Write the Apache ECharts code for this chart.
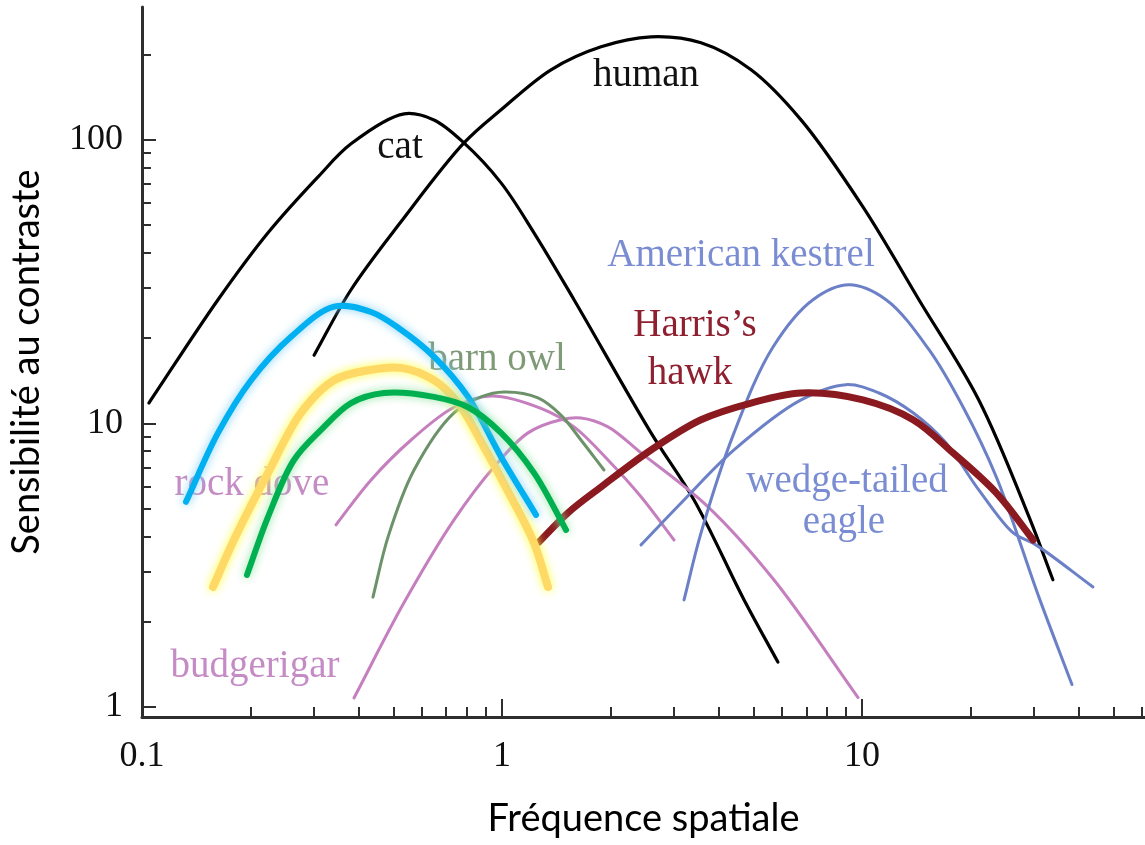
<!DOCTYPE html>
<html><head><meta charset="utf-8">
<script src="https://cdn.jsdelivr.net/npm/echarts@6/dist/echarts.min.js"></script>
<style>html,body{margin:0;padding:0;background:#fff}#c{width:1145px;height:845px}</style>
</head><body><div id="c"></div>
<script>
// ---- data (spatial frequency, contrast sensitivity) ----
const catX = [0.1045, 0.1626, 0.2239, 0.3083, 0.3807, 0.535, 0.647, 0.784, 0.994, 1.227, 1.585, 2.594, 3.415, 4.70, 5.84];
const catY = [11.8, 27.3, 47.0, 74.0, 96.8, 123.5, 117.5, 97.5, 70.5, 47.0, 27.3, 9.26, 5.37, 2.39, 1.44];
const humanX = [0.3006, 0.3807, 0.524, 0.784, 0.994, 1.368, 1.884, 2.594, 3.571, 4.918, 6.77, 10.06, 14.39, 21.1, 29.1, 33.9];
const humanY = [17.4, 29.6, 51.4, 97.5, 127.6, 176.6, 212.8, 230.7, 219.8, 176.6, 117.6, 58.0, 27.3, 12.1, 4.68, 2.81];
const rockDoveX = [0.3458, 0.4327, 0.559, 0.7356, 0.932, 1.283, 1.585, 1.97, 2.433, 3.005];
const rockDoveY = [4.39, 6.32, 8.74, 11.4, 12.5, 11.3, 9.72, 7.43, 5.51, 3.88];
const budgieX = [0.388, 0.534, 0.7356, 0.950, 1.181, 1.458, 1.657, 1.97, 2.433, 3.735, 5.69, 9.75];
const budgieY = [1.076, 2.33, 4.57, 7.02, 9.26, 10.3, 10.45, 9.72, 7.87, 5.08, 2.81, 1.08];
const owlX = [0.438, 0.4825, 0.5697, 0.7356, 0.874, 1.013, 1.259, 1.458, 1.657, 1.920];
const owlY = [2.44, 3.98, 6.85, 10.9, 12.4, 12.9, 12.3, 10.7, 8.74, 6.85];
const kestrelX = [3.203, 3.571, 4.41, 5.66, 7.31, 9.20, 11.66, 15.35, 19.1, 23.6, 31.0, 38.3];
const kestrelY = [2.385, 4.11, 9.26, 18.6, 27.3, 30.8, 27.3, 18.2, 11.4, 6.48, 2.44, 1.20];
const eagleX = [2.433, 3.203, 4.41, 6.77, 9.03, 11.15, 13.86, 17.1, 21.1, 26.3, 30.4, 43.8];
const eagleY = [3.73, 5.37, 8.06, 12.1, 13.7, 12.8, 10.9, 8.54, 5.83, 4.11, 3.73, 2.65];
const hawkX = [1.267, 1.525, 1.884, 2.594, 3.571, 4.918, 6.77, 10.06, 13.86, 17.9, 23.6, 29.9];
const hawkY = [3.82, 4.84, 5.97, 8.06, 10.3, 11.8, 12.8, 12.1, 10.3, 7.87, 5.69, 3.88];
const cyanX = [0.1325, 0.1626, 0.2009, 0.2594, 0.3414, 0.4327, 0.524, 0.647, 0.805, 0.994, 1.243];
const cyanY = [5.29, 9.26, 14.2, 20.2, 25.8, 24.7, 21.4, 17.2, 12.4, 7.62, 4.76];
const yellowX = [0.1575, 0.180, 0.2239, 0.2764, 0.3414, 0.4244, 0.524, 0.647, 0.755, 0.891, 1.059, 1.227, 1.342];
const yellowY = [2.65, 3.88, 6.69, 10.9, 14.2, 15.4, 15.7, 14.2, 11.8, 8.26, 5.51, 3.79, 2.65];
const greenX = [0.1957, 0.2239, 0.2643, 0.3143, 0.3807, 0.470, 0.647, 0.805, 0.994, 1.227, 1.506];
const greenY = [2.92, 4.68, 7.43, 9.49, 11.8, 12.8, 12.4, 11.4, 9.26, 6.69, 4.21];

// ---- axes ----
const xRange = [0.1, 61.1];
const yRange = [0.922, 294];
const xMajorVals = [0.1, 1, 10];
const xMajorLabels = ['0.1', '1', '10'];
const xMinorVals = [0.2,0.3,0.4,0.5,0.6,0.7,0.8,0.9,2,3,4,5,6,7,8,9,20,30,40,50,60];
const yMajorVals = [1, 10, 100];
const yMajorLabels = ['1', '10', '100'];
const yMinorVals = [2,3,4,5,6,7,8,9,20,30,40,50,60,70,80,90,200];
const xTitle = 'Fréquence spatiale';
const yTitle = 'Sensibilité au contraste';

const L = Math.log10;
const pts = (xs, ys) => xs.map((x, i) => [L(x), L(ys[i])]);
const fmt = (vals, labels) => v => { const i = vals.findIndex(a => Math.abs(L(a) - v) < 1e-6); return i >= 0 ? labels[i] : ''; };

// centripetal Catmull-Rom through pixel points -> cubic Bezier path
function crPath(p) {
  const n = p.length;
  const get = i => {
    if (i < 0) return [2 * p[0][0] - p[1][0], 2 * p[0][1] - p[1][1]];
    if (i >= n) return [2 * p[n - 1][0] - p[n - 2][0], 2 * p[n - 1][1] - p[n - 2][1]];
    return p[i];
  };
  let d = 'M' + p[0][0] + ',' + p[0][1];
  for (let i = 0; i < n - 1; i++) {
    const P0 = get(i - 1), P1 = p[i], P2 = p[i + 1], P3 = get(i + 2);
    const d1 = Math.sqrt(Math.hypot(P1[0] - P0[0], P1[1] - P0[1])) || 1e-6;
    const d2 = Math.sqrt(Math.hypot(P2[0] - P1[0], P2[1] - P1[1])) || 1e-6;
    const d3 = Math.sqrt(Math.hypot(P3[0] - P2[0], P3[1] - P2[1])) || 1e-6;
    const a1 = d1 * d1, a2 = d2 * d2, a3 = d3 * d3;
    const b1 = [0, 1].map(k => (a1 * P2[k] - a2 * P0[k] + (2 * a1 + 3 * d1 * d2 + a2) * P1[k]) / (3 * d1 * (d1 + d2)));
    const b2 = [0, 1].map(k => (a3 * P1[k] - a2 * P3[k] + (2 * a3 + 3 * d3 * d2 + a2) * P2[k]) / (3 * d3 * (d3 + d2)));
    d += ' C' + b1[0] + ',' + b1[1] + ' ' + b2[0] + ',' + b2[1] + ' ' + P2[0] + ',' + P2[1];
  }
  return d;
}

const axisCol = '#2e2e2e';
const serif = '"Liberation Serif", "DejaVu Serif", serif';
const sans = 'Lato, "Open Sans", sans-serif';

function curve(name, xs, ys, color, width, z, glow) {
  const data = pts(xs, ys);
  return {
    name, type: 'custom', coordinateSystem: 'cartesian2d', data, z, silent: true,
    encode: { x: 0, y: 1 },
    renderItem: (params, api) => {
      if (params.dataIndex !== 0) return null;
      const pix = data.map(d => api.coord(d));
      const style = { fill: 'none', stroke: color, lineWidth: width, lineCap: 'round', lineJoin: 'round' };
      if (glow) { style.shadowColor = glow; style.shadowBlur = 10; }
      return { type: 'path', shape: { pathData: crPath(pix) }, style };
    }
  };
}

const chart = echarts.init(document.getElementById('c'));
chart.setOption({
  animation: false,
  backgroundColor: '#fff',
  grid: { left: 142, right: 0, top: 7, bottom: 128, containLabel: false, outerBoundsMode: 'none' },
  xAxis: [
    { type: 'value', position: 'bottom', min: L(xRange[0]), max: L(xRange[1]),
      axisLine: { show: true, onZero: false, lineStyle: { color: axisCol, width: 3 } },
      axisTick: { show: true, inside: true, length: 18, customValues: [0, 1], lineStyle: { color: axisCol, width: 2 } },
      axisLabel: { show: true, customValues: xMajorVals.map(L), formatter: fmt(xMajorVals, xMajorLabels), margin: 22,
        fontFamily: serif, fontSize: 36, color: '#111', showMinLabel: true, showMaxLabel: true },
      splitLine: { show: false },
      name: xTitle, nameLocation: 'middle', nameGap: 83,
      nameTextStyle: { fontFamily: sans, fontSize: 38, color: '#000' } },
    { type: 'value', position: 'bottom', min: L(xRange[0]), max: L(xRange[1]),
      axisLine: { show: false, onZero: false },
      axisTick: { show: true, inside: true, length: 10, customValues: xMinorVals.map(L), lineStyle: { color: axisCol, width: 2 } },
      axisLabel: { show: false }, splitLine: { show: false } }
  ],
  yAxis: [
    { type: 'value', position: 'left', min: L(yRange[0]), max: L(yRange[1]),
      axisLine: { show: true, onZero: false, lineStyle: { color: axisCol, width: 3 } },
      axisTick: { show: true, inside: true, length: 14, customValues: [0, 1, 2], lineStyle: { color: axisCol, width: 2 } },
      axisLabel: { show: true, customValues: yMajorVals.map(L), formatter: fmt(yMajorVals, yMajorLabels), margin: 19,
        fontFamily: serif, fontSize: 36, color: '#111', showMinLabel: true, showMaxLabel: true },
      splitLine: { show: false },
      name: yTitle, nameLocation: 'middle', nameGap: 96, nameRotate: 90,
      nameTextStyle: { fontFamily: sans, fontSize: 38, color: '#000' } },
    { type: 'value', position: 'left', min: L(yRange[0]), max: L(yRange[1]),
      axisLine: { show: false, onZero: false },
      axisTick: { show: true, inside: true, length: 9, customValues: yMinorVals.map(L), lineStyle: { color: axisCol, width: 2 } },
      axisLabel: { show: false }, splitLine: { show: false } }
  ],
  series: [
    curve('cat', catX, catY, '#000000', 3.2, 2),
    curve('human', humanX, humanY, '#000000', 3.2, 2),
    curve('rock dove', rockDoveX, rockDoveY, '#c57fbf', 3, 3),
    curve('budgerigar', budgieX, budgieY, '#c57fbf', 3, 3),
    curve('barn owl', owlX, owlY, '#6c926a', 3, 3),
    curve('American kestrel', kestrelX, kestrelY, '#6b80c6', 3, 3),
    curve('wedge-tailed eagle', eagleX, eagleY, '#6b80c6', 3, 3),
    curve("Harris's hawk", hawkX, hawkY, '#8b1a20', 7, 4),
    curve('yellow', yellowX, yellowY, '#ffd966', 8, 5, '#ffff40'),
    curve('cyan', cyanX, cyanY, '#00b0f0', 6, 6, '#7fcff5'),
    curve('green', greenX, greenY, '#00b050', 6, 7, '#8fe39f')
  ],
  graphic: [
    { type: 'text', x: 646, y: 76, z: 10, style: { text: 'human', fill: '#111', font: '39px ' + serif, align: 'center', verticalAlign: 'middle' } },
    { type: 'text', x: 400, y: 148, z: 10, style: { text: 'cat', fill: '#111', font: '39px ' + serif, align: 'center', verticalAlign: 'middle' } },
    { type: 'text', x: 741, y: 256, z: 10, style: { text: 'American kestrel', fill: '#7b8dd2', font: '39px ' + serif, align: 'center', verticalAlign: 'middle' } },
    { type: 'text', x: 695, y: 326, z: 10, style: { text: 'Harris\u2019s', fill: '#8e2030', font: '39px ' + serif, align: 'center', verticalAlign: 'middle' } },
    { type: 'text', x: 690, y: 374, z: 10, style: { text: 'hawk', fill: '#8e2030', font: '39px ' + serif, align: 'center', verticalAlign: 'middle' } },
    { type: 'text', x: 497, y: 360, z: 1, style: { text: 'barn owl', fill: '#7f9a77', font: '39px ' + serif, align: 'center', verticalAlign: 'middle' } },
    { type: 'text', x: 252, y: 485, z: 1, style: { text: 'rock dove', fill: '#c58bc5', font: '39px ' + serif, align: 'center', verticalAlign: 'middle' } },
    { type: 'text', x: 847, y: 482, z: 10, style: { text: 'wedge-tailed', fill: '#7b8dd2', font: '39px ' + serif, align: 'center', verticalAlign: 'middle' } },
    { type: 'text', x: 844, y: 523, z: 10, style: { text: 'eagle', fill: '#7b8dd2', font: '39px ' + serif, align: 'center', verticalAlign: 'middle' } },
    { type: 'text', x: 255, y: 667, z: 10, style: { text: 'budgerigar', fill: '#c58bc5', font: '39px ' + serif, align: 'center', verticalAlign: 'middle' } }
  ]
});
</script>
</body></html>
